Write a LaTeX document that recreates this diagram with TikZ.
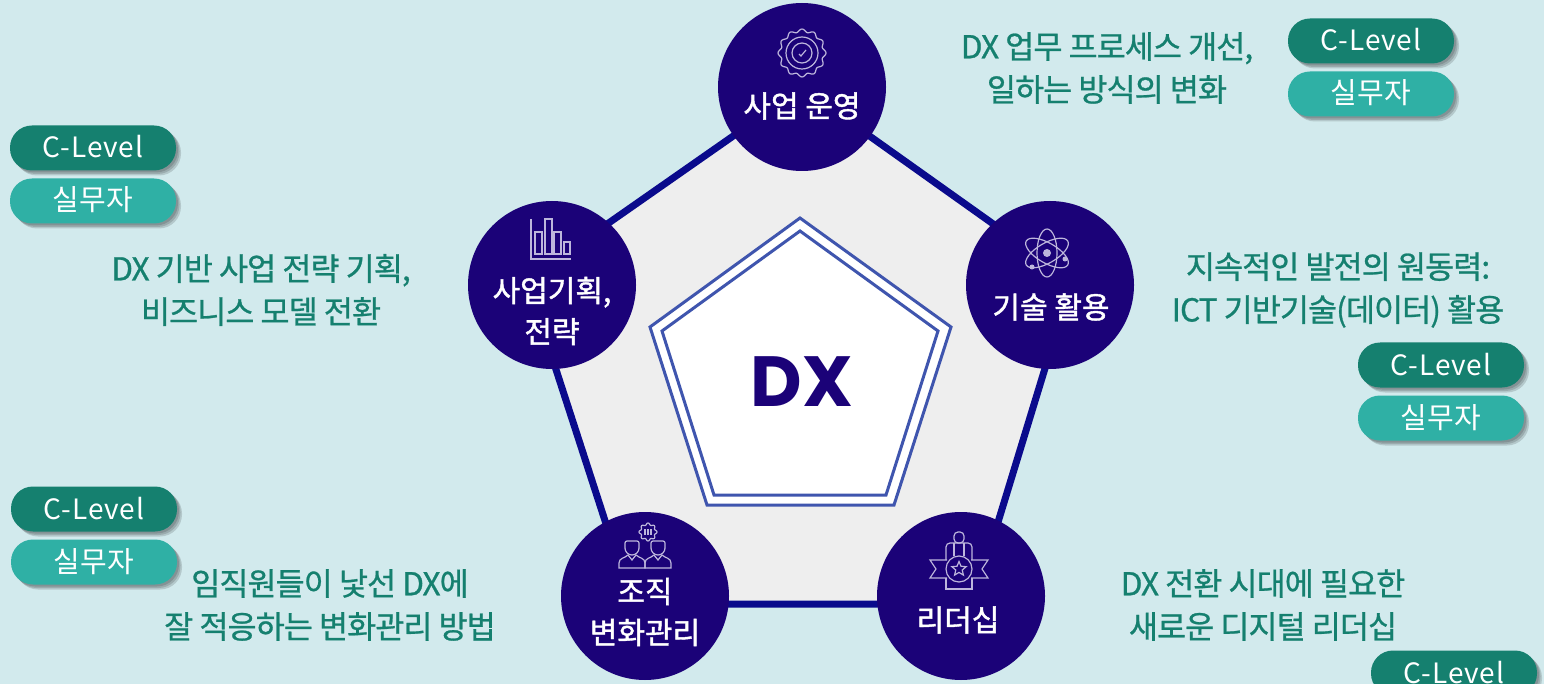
\documentclass[tikz,border=0pt]{standalone}
\usepackage{fontspec}
\setmainfont{Noto Sans CJK KR}
\newfontfamily\krfont[LetterSpace=-3,FakeBold=0.8]{Noto Sans CJK KR}
\newfontfamily\topicfont[FakeBold=1.4]{Noto Sans CJK KR}
\newfontfamily\pillfont[LetterSpace=3]{Noto Sans CJK KR}
\newfontfamily\dxfont{Poppins}
\usetikzlibrary{backgrounds,shadows,shapes.geometric}
\definecolor{bgblue}{HTML}{D2EAED}
\definecolor{navycircle}{HTML}{1B0278}
\definecolor{navyline}{HTML}{0A0A8C}
\definecolor{panelgray}{HTML}{EEEEEE}
\definecolor{rimblue}{HTML}{3F55AE}
\definecolor{tealdark}{HTML}{15806F}
\definecolor{teallight}{HTML}{2FB0A5}
\definecolor{icongray}{HTML}{BDB6DC}
\tikzset{
  topic/.style={circle, fill=navycircle, minimum size=168pt, inner sep=0pt},
  topiclabel/.style={text=white, font=\topicfont\fontsize{30}{41}\selectfont, align=center, inner sep=0pt},
  note/.style={text=tealdark, font=\krfont\fontsize{31.6}{43}\selectfont, align=center, inner sep=0pt},
  softshadow/.style={drop shadow={shadow xshift=#1pt, shadow yshift=-#1pt, fill=black, opacity=0.14}},
  pill/.style={rounded corners=22pt, minimum width=166pt, minimum height=45pt, inner sep=0pt,
    text=white, text height=20pt, text depth=0pt, softshadow=2, softshadow=3.5, softshadow=5},
  clevel/.style={pill, fill=tealdark, font=\pillfont\fontsize{28}{30}\selectfont},
  staff/.style={pill, fill=teallight, font=\fontsize{29}{30}\selectfont},
  rim/.style={draw=rimblue, line width=3pt, line join=miter},
  iconline/.style={draw=icongray, line width=1.2pt}
}
\begin{document}
\begin{tikzpicture}[x=1pt, y=-1pt]
    \clip (0,0) rectangle (1544,684);

    \node[topic] (run) at (802,87) {};
    \node[topic] (plan) at (552,285) {};
    \node[topic] (tech) at (1050,285) {};
    \node[topic] (org) at (645,596) {};
    \node[topic] (lead) at (961,596) {};

    \coordinate (p1) at (802,88);
    \coordinate (p2) at (1072,280);
    \coordinate (p3) at (973,604);
    \coordinate (p4) at (632,604);
    \coordinate (p5) at (527,280);
    \begin{scope}[on background layer]
        \fill[bgblue] (0,0) rectangle (1544,684);
        \draw[navyline, fill=panelgray, line width=7pt] (p1) -- (p2) -- (p3) -- (p4) -- (p5) -- cycle;
    \end{scope}

    \coordinate (o1) at (800,218);
    \coordinate (o2) at (951,327);
    \coordinate (o3) at (894,505);
    \coordinate (o4) at (707,505);
    \coordinate (o5) at (650,327);
    \coordinate (i1) at (800,231);
    \coordinate (i2) at (938,331);
    \coordinate (i3) at (886,495);
    \coordinate (i4) at (714,495);
    \coordinate (i5) at (662,331);
    \draw[rim, fill=white] (o1) -- (o2) -- (o3) -- (o4) -- (o5) -- cycle;
    \draw[rim] (i1) -- (i2) -- (i3) -- (i4) -- (i5) -- cycle;
    \node[text=navycircle, inner sep=0pt, font=\dxfont\fontsize{71}{72}\selectfont\bfseries] (dx) at (802,382) {DX};

    \node[topiclabel] (runlabel) at (802,106) {사업 운영};
    \node[topiclabel] (planlabel) at (552,311) {사업기획,\\전략};
    \node[topiclabel] (techlabel) at (1051,307) {기술 활용};
    \node[topiclabel] (orglabel) at (645,612) {조직\\변화관리};
    \node[topiclabel] (leadlabel) at (958,620) {리더십};

    \node[note] (runnote) at (1107,68) {DX 업무 프로세스 개선,\\일하는 방식의 변화};
    \node[note] (plannote) at (261,290) {DX 기반 사업 전략 기획,\\비즈니스 모델 전환};
    \node[note] (technote) at (1338,290) {지속적인 발전의 원동력:\\ICT 기반기술(데이터) 활용};
    \node[note] (orgnote) at (330,605) {임직원들이 낯선 DX에\\잘 적응하는 변화관리 방법};
    \node[note] (leadnote) at (1263,605) {DX 전환 시대에 필요한\\새로운 디지털 리더십};

    \foreach \name/\x/\y in {run/1371/41, plan/93/148, tech/1441/365, org/94/509, lead/1454/673}{
        \node[clevel] (\name level) at (\x,\y) {C-Level};
    }
    \foreach \name/\x/\y in {run/1371/94, plan/93/201, tech/1441/418, org/94/562}{
        \node[staff] (\name staff) at (\x,\y) {실무자};
    }

    \begin{scope}[shift={(802,53)}]
        \draw[iconline] plot[domain=0:360, samples=121, smooth] (\x:{22.5+1.5*cos(12*\x)}) -- cycle;
        \draw[iconline] (0,0) circle (16);
        \draw[iconline] (0,0) circle (10);
        \draw[iconline] (-3,1) -- (-1,3) -- (4,-3);
    \end{scope}

    \begin{scope}[iconline]
        \draw (531,219) -- (531,259) -- (571,259);
        \draw (535,232) rectangle (542,254);
        \draw (545,219) rectangle (552,254);
        \draw (554,232) rectangle (561,254);
        \draw (564,242) rectangle (570,254);
    \end{scope}

    \begin{scope}[shift={(1047,253)}]
        \foreach \ang in {90,30,150}{
            \draw[iconline, rotate=\ang] (0,0) ellipse (24 and 10);
        }
        \fill[icongray] (0,0) circle (4);
        \fill[icongray] (18,6) circle (2.5);
        \fill[icongray] (-15,14) circle (2.5);
    \end{scope}

    \begin{scope}[shift={(648,532)}]
        \draw[iconline] plot[domain=0:360, samples=81, smooth] (\x:{8+1*cos(8*\x)}) -- cycle;
        \draw[iconline] (-3,-3) -- (-3,3) (0,-3) -- (0,3) (3,-3) -- (3,3);
    \end{scope}
    \foreach \px in {632,658}{
        \begin{scope}[shift={(\px,547)}]
            \draw[iconline, rounded corners=2pt] (-7,1) -- (-7,-6) -- (7,-6) -- (7,1);
            \draw[iconline] (7,1) arc (0:180:7);
            \draw[iconline] (-13,21) -- (-13,16) .. controls (-13,11) and (-7,11) .. (-4,8) -- (0,13) -- (4,8) .. controls (7,11) and (13,11) .. (13,16) -- (13,21) -- cycle;
        \end{scope}
    }

    \begin{scope}[shift={(959,568)}]
        \draw[iconline, rounded corners=4pt] (-5,-25) rectangle (5,-36);
        \draw[iconline, rounded corners=4pt] (-13,-8) -- (-13,-25) -- (13,-25) -- (13,-8);
        \draw[iconline] (-5,-25) -- (-5,-12) (5,-25) -- (5,-12);
        \draw[iconline] (-13,10) -- (-13,21) -- (13,21) -- (13,10);
        \draw[iconline] (-12,-8) -- (-29,-8) -- (-23,1) -- (-29,10) -- (-12,10);
        \draw[iconline] (12,-8) -- (29,-8) -- (23,1) -- (29,10) -- (12,10);
        \draw[iconline] (0,1) circle (13);
        \node[star, star points=5, star point ratio=2.2, draw=icongray, line width=1.2pt, minimum size=15pt, inner sep=0pt] (leadstar) at (0,1) {};
    \end{scope}
\end{tikzpicture}
\end{document}
